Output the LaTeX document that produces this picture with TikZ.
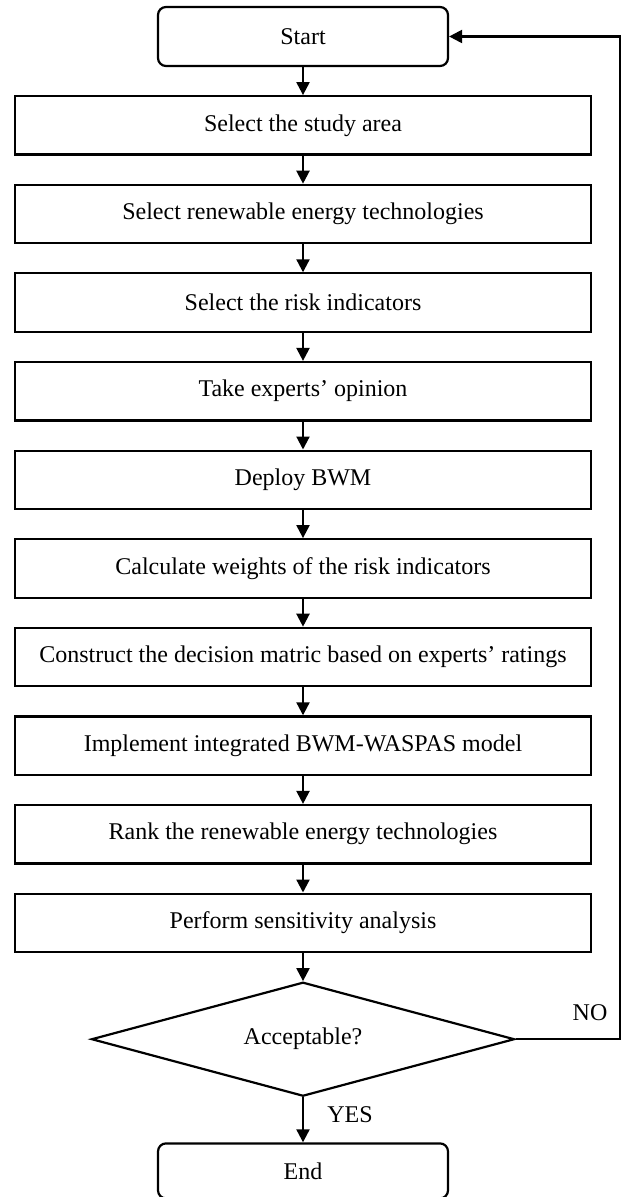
\documentclass[tikz,border=0pt]{standalone}
\usepackage{fontspec}
\setmainfont{Liberation Serif}
\usetikzlibrary{arrows.meta, positioning, shapes.geometric}

\begin{document}
\begin{tikzpicture}[
    x=1pt, y=1pt,
    box/.style={rectangle, draw, line width=1.1pt, minimum width=288pt, minimum height=29.2pt, inner sep=2pt, font=\fontsize{12}{14}\selectfont, align=center},
    term/.style={box, rounded corners=4pt, minimum width=145pt},
    decision/.style={diamond, aspect=3.7, draw, line width=1.1pt, minimum width=211.5pt, minimum height=57pt, inner sep=0pt, font=\fontsize{12}{14}\selectfont},
    ff/.style={-{Triangle[length=6.5pt, width=6.5pt]}, line width=1.1pt},
    lbl/.style={font=\fontsize{12}{14}\selectfont, inner sep=1pt},
    node distance=14pt,
  ]
  \useasboundingbox (0,0) rectangle (311.5,-598.5);

  \node[term, minimum height=29.5pt] (start) at (151.5,-18.25) {Start};
  \node[box, below=of start] (area) {Select the study area};
  \node[box, below=of area] (tech) {Select renewable energy technologies};
  \node[box, below=of tech] (risk) {Select the risk indicators};
  \node[box, below=of risk] (expert) {Take experts’ opinion};
  \node[box, below=of expert] (bwm) {Deploy BWM};
  \node[box, below=of bwm] (weight) {Calculate weights of the risk indicators};
  \node[box, below=of weight] (matrix) {Construct the decision matric based on experts’ ratings};
  \node[box, below=of matrix] (model) {Implement integrated BWM-WASPAS model};
  \node[box, below=of model] (rank) {Rank the renewable energy technologies};
  \node[box, below=of rank] (sens) {Perform sensitivity analysis};
  \node[decision, below=of sens] (ok) {Acceptable?};
  \node[term, minimum height=27.5pt, below=22.5pt of ok] (end) {End};
  \coordinate (rt) at (310,0);

  % Main flow
  \draw[ff] (start) -- (area);
  \draw[ff] (area) -- (tech);
  \draw[ff] (tech) -- (risk);
  \draw[ff] (risk) -- (expert);
  \draw[ff] (expert) -- (bwm);
  \draw[ff] (bwm) -- (weight);
  \draw[ff] (weight) -- (matrix);
  \draw[ff] (matrix) -- (model);
  \draw[ff] (model) -- (rank);
  \draw[ff] (rank) -- (sens);
  \draw[ff] (sens) -- (ok);
  \draw[ff] (ok) -- (end);

  % Loop back
  \draw[ff] (ok.east) -- (ok.east -| rt) |- (start.east);

  % Labels
  \node[lbl] (no) at (295,-506.5) {NO};
  \node[lbl, anchor=west, xshift=11pt, yshift=-8.5pt] (yes) at (ok.south) {YES};
\end{tikzpicture}
\end{document}
